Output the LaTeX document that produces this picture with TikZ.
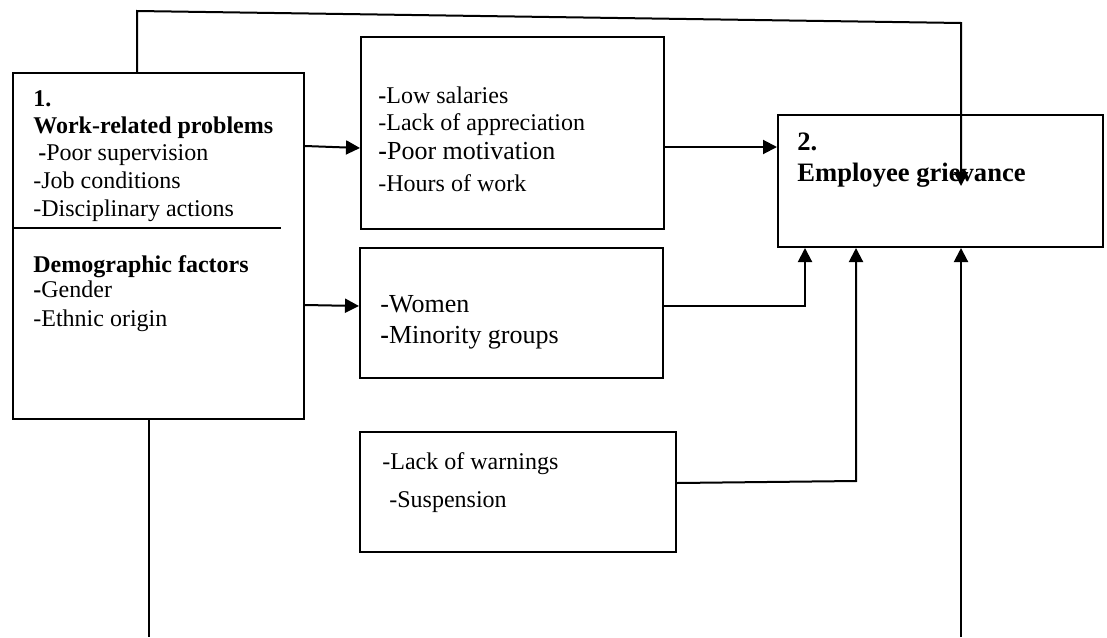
\documentclass[tikz,border=0pt]{standalone}
\usepackage{fontspec}
\setmainfont{Liberation Serif}
\usetikzlibrary{calc,arrows.meta}

\begin{document}
\begin{tikzpicture}[
  x=0.5pt, y=-0.5pt,
  >={Triangle[length=7pt,width=7pt]},
  box/.style={rectangle, draw=black, line width=1pt, anchor=north west,
    inner sep=0pt},
  txt/.style={anchor=base west, inner sep=0pt, font=\fontsize{12}{14}\selectfont},
  head/.style={anchor=base west, inner sep=0pt,
    font=\fontsize{12}{14}\selectfont\bfseries},
  big/.style={anchor=base west, inner sep=0pt, font=\fontsize{13}{15}\selectfont},
  ar/.style={->, line width=1pt, draw=black},
  ln/.style={line width=1pt, draw=black}
]
\useasboundingbox (0,0) rectangle (1107,637);
% Work-related problems / demographic factors
\node[box, minimum width=145.5pt, minimum height=173pt] (wrk) at (12,72) {};
\node[head] (one)   at (33,106) {1.};
\node[head] (wrp)   at (33,133) {Work-related problems};
\node[txt]  (sup)   at (38,160) {\textbf{-}Poor supervision};
\node[txt]  (job)   at (33,188) {-Job conditions};
\node[txt]  (dis)   at (33,216) {-Disciplinary actions};
\coordinate (dv) at (281,228);
\draw[ln] (wrk.west |- dv) -- (dv);
\node[head] (demo)  at (33,272) {Demographic factors};
\node[txt]  (gen)   at (33,297) {\textbf{-}Gender};
\node[txt]  (eth)   at (33,326) {-Ethnic origin};
% Salaries box
\node[box, minimum width=151.5pt, minimum height=96pt] (sal) at (360,36) {};
\node[txt] (low)  at (378,103) {\textbf{-}Low salaries};
\node[txt] (app)  at (378,130) {-Lack of appreciation};
\node[big] (mot)  at (378,159) {\textbf{-}Poor motivation};
\node[txt] (hrs)  at (378,191) {-Hours of work};
% Groups box
\node[box, minimum width=151.5pt, minimum height=65pt] (grp) at (359,247) {};
\node[big] (wom)  at (380,312) {-Women};
\node[big] (min)  at (380,343) {\textbf{-}Minority groups};
% Warnings box
\node[box, minimum width=158pt, minimum height=60pt] (wrn) at (359,431) {};
\node[txt] (lw)   at (382,469) {-Lack of warnings};
\node[txt] (susp) at (389,507) {-Suspension};
% Employee grievance
\node[box, minimum width=162.5pt, minimum height=66pt] (grv) at (777,114) {};
\node[anchor=base west, inner sep=0pt, font=\fontsize{13.3}{15}\selectfont\bfseries]
  (two) at (797,150) {2.};
\node[anchor=base west, inner sep=0pt, font=\fontsize{13.3}{15}\selectfont\bfseries]
  (egr) at (797,181) {Employee grievance};
% connectors
\draw[ar] (wrk.east |- 0,146) -- (sal.west |- 0,148);
\draw[ar] (sal.east |- 0,147) -- (grv.west |- 0,147);
\draw[ar] (wrk.east |- 0,305) -- (grp.west |- 0,306);
\draw[ar] (grp.east |- 0,306) -| ($(grv.south west)+(28,0)$);
\coordinate (wc) at ($(grv.south west)+(79,0)$);
\draw[ar] (wrn.east |- 0,483) -- (wc |- 0,481) -- (wc);
% long route over the top
\coordinate (tl) at (137,11);
\coordinate (tr) at (961,23);
\coordinate (tip) at (961,186);
\draw[ar] (wrk.north -| tl) -- (tl) -- (tr) -- (tip);
% lines from the bottom
\coordinate (bl) at (149,637);
\coordinate (br) at (961,637);
\draw[ln] (wrk.south -| bl) -- (bl);
\draw[ar] (br) -- (br |- grv.south);
\end{tikzpicture}
\end{document}
